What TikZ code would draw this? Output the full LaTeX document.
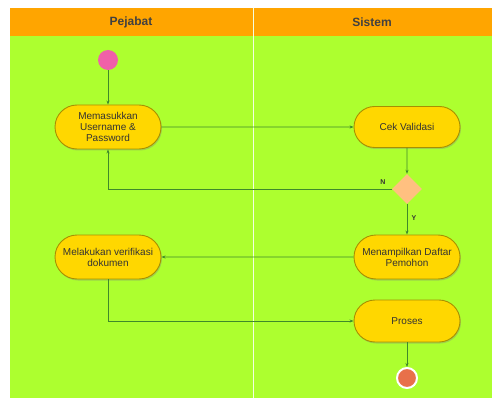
\documentclass[tikz,border=0pt]{standalone}
\usepackage{fontspec}
\setmainfont{Liberation Sans}
\usetikzlibrary{shapes.geometric,shapes.misc,arrows.meta,shadows}
\definecolor{lanegreen}{HTML}{ADFF2F}
\definecolor{headorange}{HTML}{FFA500}
\definecolor{actfill}{HTML}{FFD700}
\definecolor{actborder}{HTML}{A89000}
\definecolor{flow}{HTML}{3F8A2A}
\definecolor{startpink}{HTML}{F060A8}
\definecolor{endred}{HTML}{E8704A}
\definecolor{decfill}{HTML}{FFC080}
\tikzset{
  act/.style={rounded rectangle, draw=actborder, line width=0.9pt, fill=actfill,
    minimum width=110pt, minimum height=44pt, align=center, inner xsep=2pt,
    font=\fontsize{10}{11}\selectfont, text=black!80,
    drop shadow={shadow xshift=1pt, shadow yshift=-1.5pt, opacity=0.35}},
  flowline/.style={draw=flow, line width=0.6pt, -{Stealth[length=4pt,width=3pt]}},
  lbl/.style={font=\fontsize{7}{8}\selectfont\bfseries, text=black!80},
  head/.style={font=\fontsize{12}{13}\selectfont\bfseries, text=black!75}
}
\begin{document}
\begin{tikzpicture}[x=1pt,y=-1pt]
\useasboundingbox (0,0) rectangle (492,398);
\fill[white] (0,0) rectangle (492,398);
% lanes
\fill[lanegreen] (10,8) rectangle (492,398);
\fill[headorange] (10,8) rectangle (492,36);
\draw[white!85!lanegreen, line width=0.8pt] (253,8) -- (253,398);
\node[head] (h1) at (131,22) {Pejabat};
\node[head] (h2) at (372,22) {Sistem};
% nodes
\node[circle, fill=startpink, minimum size=20pt, inner sep=0pt] (start) at (108,60) {};
\node[act] (masuk) at (108,127) {Memasukkan\\Username \&\\Password};
\node[act, minimum height=41pt] (cek) at (407,127) {Cek Validasi};
\node[diamond, fill=decfill, minimum size=30pt, inner sep=0pt] (dec) at (407,189) {};
\node[act] (tampil) at (407,257) {Menampilkan Daftar\\Pemohon};
\node[act] (verif) at (108,257) {Melakukan verifikasi\\dokumen};
\node[act, minimum height=42pt] (proses) at (407,321) {Proses};
\node[circle, fill=endred, draw=white, line width=2pt, minimum size=20pt, inner sep=0pt] (end) at (407,378) {};
\coordinate (vturn) at (108,321);
% connectors
\draw[flowline] (start) -- (masuk);
\draw[flowline] (masuk) -- (cek);
\draw[flowline] (cek) -- (dec);
\draw[flowline] (dec.west) -| (masuk);
\node[lbl] (n) at (383,182) {N};
\draw[flowline] (dec) -- (tampil) node[lbl, pos=0.45, right=1pt] (y) {Y};
\draw[flowline] (tampil) -- (verif);
\draw[flowline] (verif) -- (vturn) -- (proses);
\draw[flowline] (proses) -- (end);
\end{tikzpicture}
\end{document}
